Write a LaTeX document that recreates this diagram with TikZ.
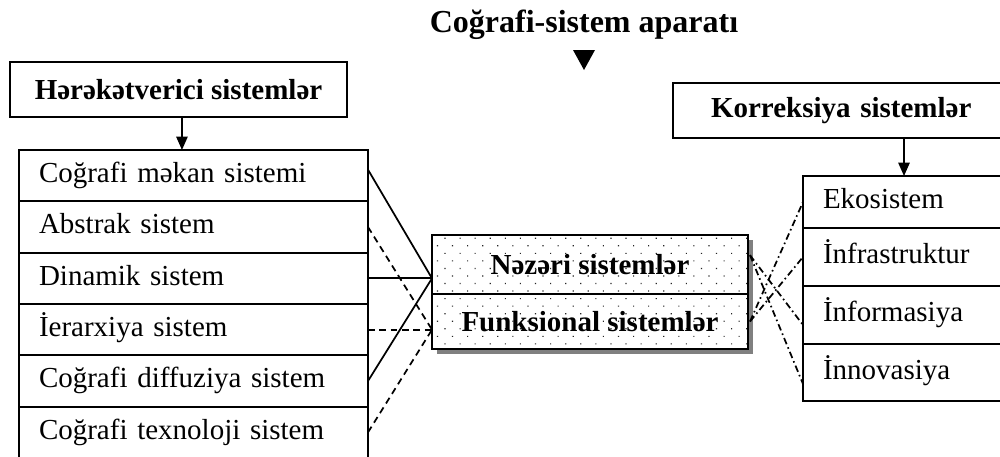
\documentclass[tikz,border=0pt]{standalone}
\usepackage{fontspec}
\setmainfont{Liberation Serif}
\usepackage{tikz}
\usetikzlibrary{
  positioning,
  calc,
  arrows.meta,
  shadows,
  patterns.meta
}
\tikzstyle{box}=[draw, line width=1.5pt, outer sep=0pt, inner sep=0pt]
\tikzstyle{head}=[box, minimum height=41.25pt, font=\fontsize{21.75}{26}\selectfont\bfseries]
\tikzstyle{leftrow}=[box, align=left, inner xsep=15pt, text width=231.75pt, minimum height=38.5pt, text height=15pt, text depth=5pt, font=\fontsize{21.75}{26}\selectfont]
\tikzstyle{rightrow}=[box, align=left, inner xsep=15pt, text width=160pt, text height=15pt, text depth=5pt, font=\fontsize{21.75}{26}\selectfont]
\tikzstyle{dotbox}=[box, minimum width=237pt, font=\fontsize{21.75}{26}\selectfont\bfseries,
  drop shadow={shadow xshift=4pt, shadow yshift=-4pt, fill=black!50, opacity=1},
  preaction={fill=white}, pattern={Dots[distance=8pt, angle=45, radius=0.6pt]}, pattern color=black!85]
\tikzstyle{arr}=[-{Triangle[length=10pt,width=8.5pt]}, line width=1.2pt]
\tikzstyle{solidline}=[line width=1.3pt]
\tikzstyle{dashline}=[line width=1.3pt, dash pattern=on 5pt off 3.5pt]
\tikzstyle{dotline}=[line width=1.3pt, dash pattern=on 5pt off 2.5pt on 1.2pt off 2.5pt]

\begin{document}
\begin{tikzpicture}[x=0.75pt, y=-0.75pt]
    \useasboundingbox (0,0) rectangle (1000,457);

    % 見出し
    \node[font=\fontsize{24}{28}\selectfont\bfseries] (title) at (584,25) {Coğrafi-sistem aparatı};
    \coordinate (tri) at (584,50);
    \fill ($(tri)+(-11,0)$) -- ($(tri)+(11,0)$) -- ($(tri)+(0,20)$) -- cycle;

    % 左側の枠
    \node[head, minimum width=252.75pt] (harakat) at (178.5,89.5) {Hərəkətverici sistemlər};
    \node[leftrow, anchor=north west] (r1) at (19,150) {Coğrafi məkan sistemi};
    \node[leftrow, below=0pt of r1] (r2) {Abstrak sistem};
    \node[leftrow, below=0pt of r2] (r3) {Dinamik sistem};
    \node[leftrow, below=0pt of r3] (r4) {İerarxiya sistem};
    \node[leftrow, below=0pt of r4] (r5) {Coğrafi diffuziya sistem};
    \node[leftrow, below=0pt of r5] (r6) {Coğrafi texnoloji sistem};
    \draw[arr] ([xshift=2.6pt]harakat.south) -- ([xshift=2.6pt]harakat.south |- r1.north);

    % 中央の枠
    \node[dotbox, minimum height=44.25pt, anchor=north west] (nazari) at (432,235) {Nəzəri sistemlər};
    \node[dotbox, minimum height=41.25pt, below=0pt of nazari] (funk) {Funksional sistemlər};

    % 右側の枠
    \node[head, anchor=west, align=left, inner xsep=28.5pt, text width=225pt] (korr) at (673,110.5) {Korreksiya sistemlər};
    \node[rightrow, minimum height=39pt, anchor=north west] (eko) at (803,176) {Ekosistem};
    \node[rightrow, minimum height=43.5pt, below=0pt of eko] (infra) {İnfrastruktur};
    \node[rightrow, minimum height=43.5pt, below=0pt of infra] (inform) {İnformasiya};
    \node[rightrow, minimum height=42.75pt, below=0pt of inform] (innov) {İnnovasiya};
    \coordinate (kArr) at (904,0);
    \draw[arr] (kArr |- korr.south) -- (kArr |- eko.north);

    % 左の連結線
    \coordinate (pA) at (nazari.west |- r3.east);
    \coordinate (pB) at (funk.west |- r4.east);
    \draw[solidline] ([yshift=4.5pt]r1.east) -- (pA);
    \draw[solidline] (r3.east) -- (pA);
    \draw[solidline] (r5.east) -- (pA);
    \draw[dashline] (r2.east) -- (pB);
    \draw[dashline] (r4.east) -- (pB);
    \draw[dashline] (r6.east) -- (pB);

    % 右の連結線
    \coordinate (qA) at ([xshift=1.5pt, yshift=7pt]nazari.east);
    \coordinate (qB) at ([xshift=1.5pt]funk.east);
    \draw[dotline] (qB) -- (eko.west);
    \draw[dotline] (qB) -- (infra.west);
    \draw[dotline] (qA) -- ([yshift=-7.5pt]inform.west);
    \draw[dotline] (qA) -- ([yshift=-8.6pt]innov.west);
\end{tikzpicture}
\end{document}
